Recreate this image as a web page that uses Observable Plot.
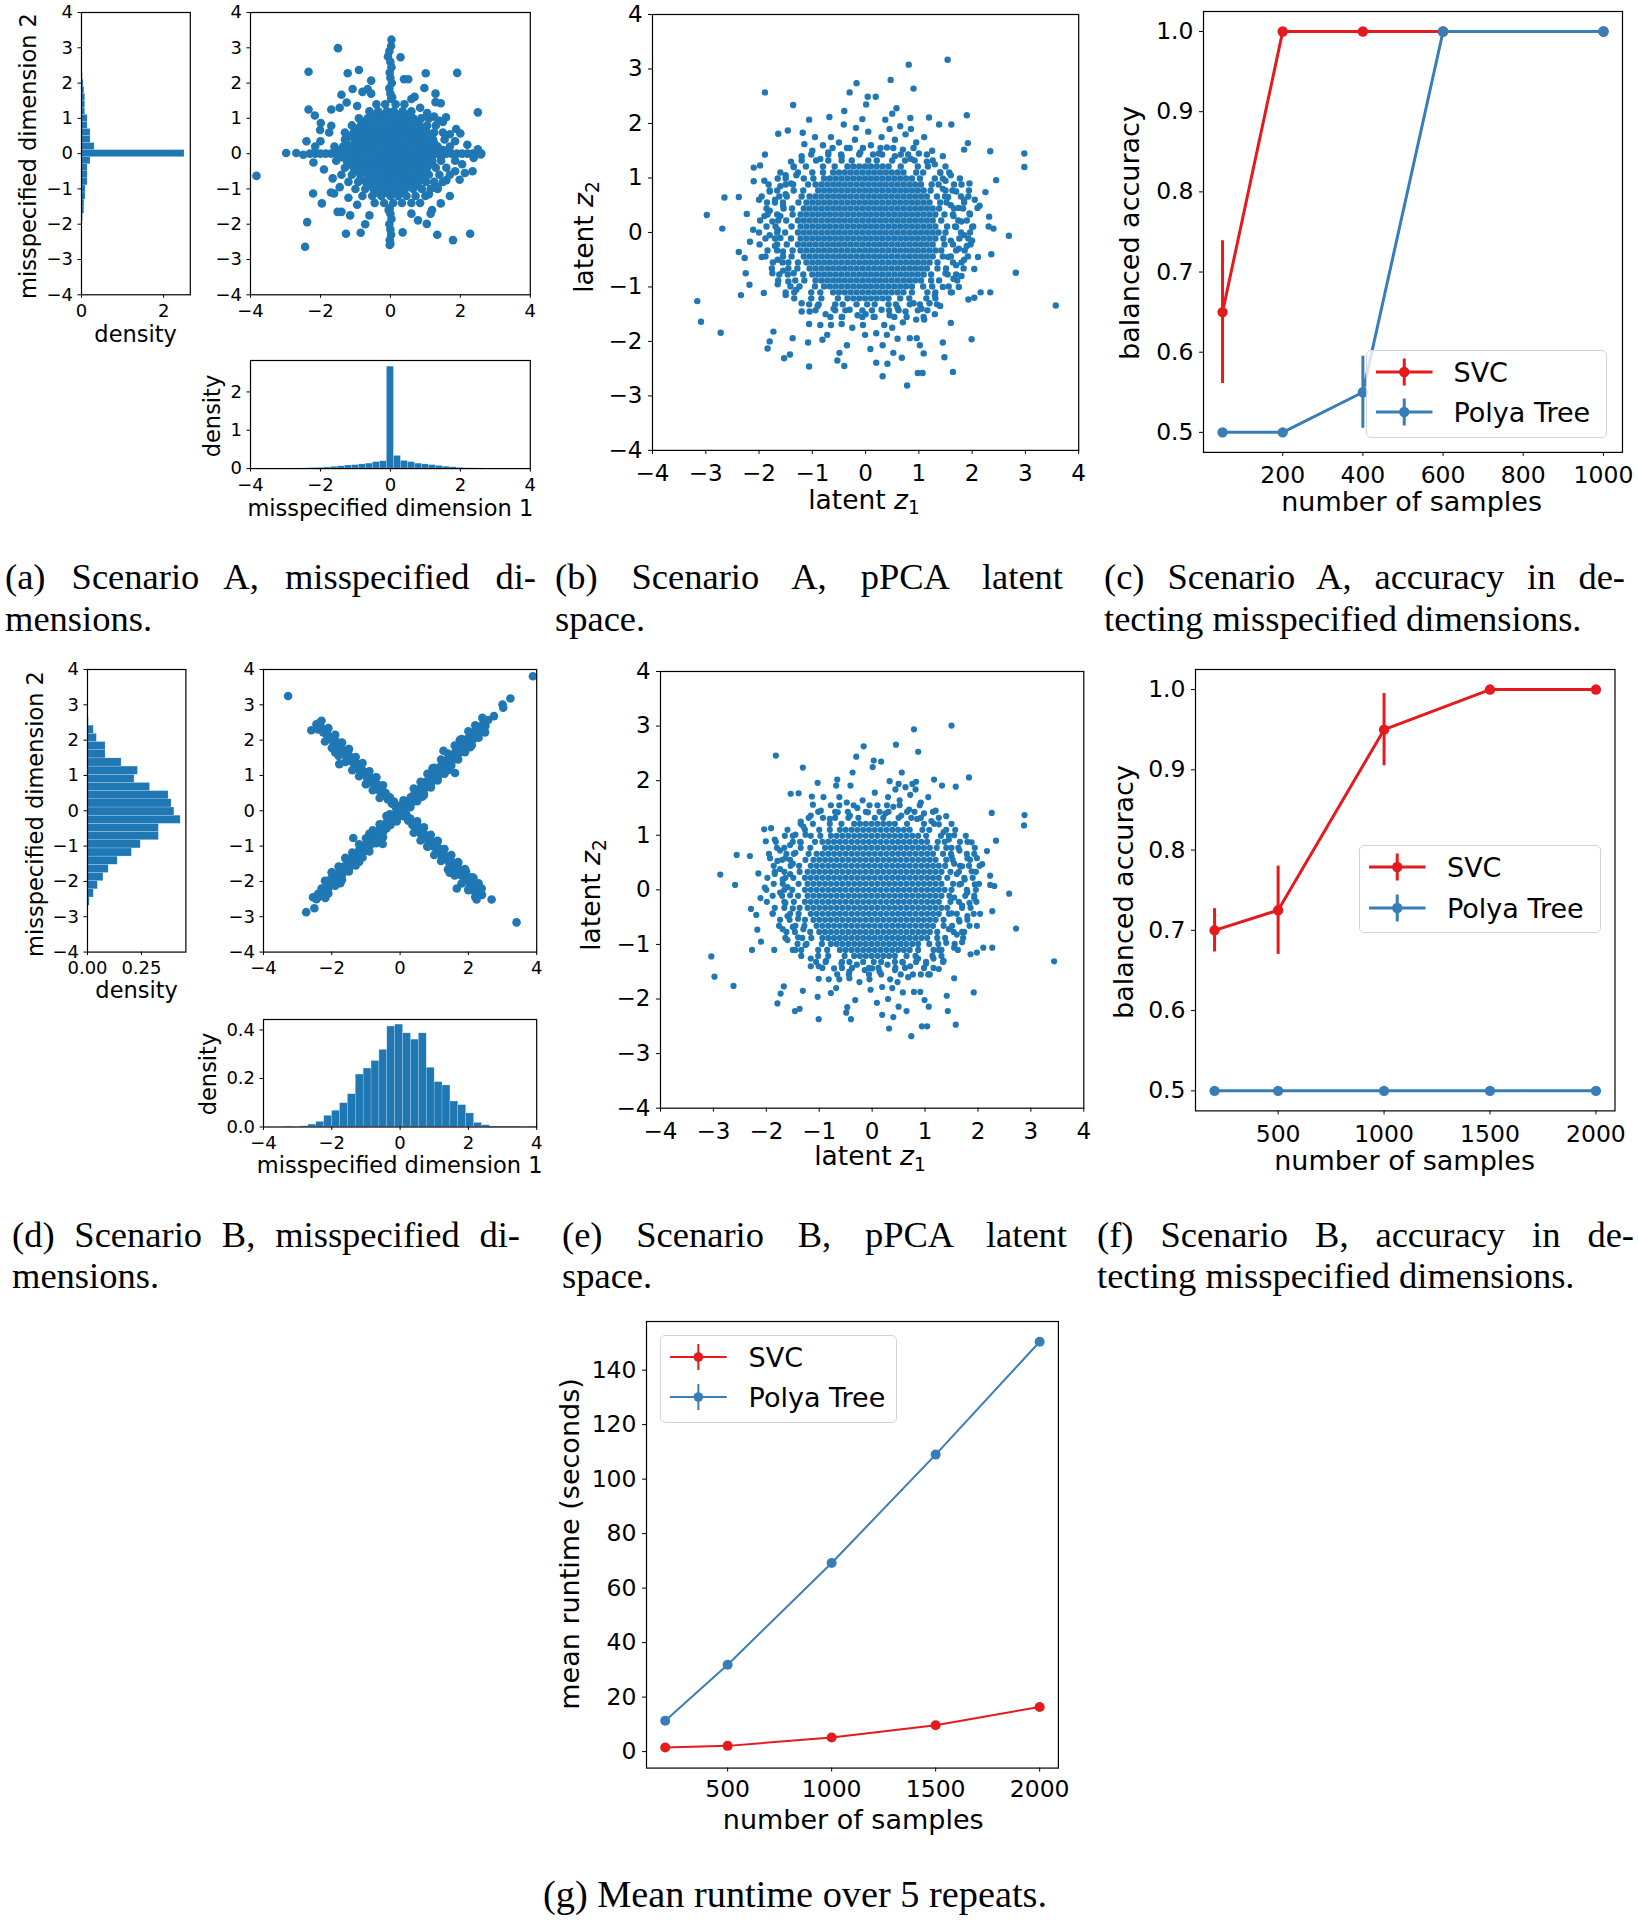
<!DOCTYPE html>
<html><head><meta charset="utf-8">
<script src="https://cdn.jsdelivr.net/npm/d3@7"></script>
<script src="https://cdn.jsdelivr.net/npm/@observablehq/plot@0.6"></script>
<style>
body{margin:0;background:#fff;}
#fig{position:relative;width:1638px;height:1920px;overflow:hidden;font-family:"DejaVu Sans";color:#000;background:#fff;}
.lab{position:absolute;white-space:nowrap;line-height:1;color:#000;font-family:"DejaVu Sans";}
.cap{position:absolute;font-family:"Liberation Serif";font-size:36.5px;line-height:1;white-space:nowrap;color:#000;}
.cap.j{text-align:justify;text-align-last:justify;white-space:normal;}
.leg{position:absolute;box-sizing:border-box;border:1.2px solid #d4d4d4;border-radius:5px;background:rgba(255,255,255,0.8);}
.legt{position:absolute;white-space:nowrap;line-height:1;font-family:"DejaVu Sans";color:#000;}
</style></head>
<body><div id="fig"></div>
<script>
// ---------------- DATA ----------------
const seriesNames = ["SVC", "Polya Tree"];
// (a) Scenario A marginal histograms (density)
const aLeftEdges = [-2.7,-2.5,-2.3,-2.1,-1.9,-1.7,-1.5,-1.3,-1.1,-0.9,-0.7,-0.5,-0.3,-0.1,0.1,0.3,0.5,0.7,0.9,1.1,1.3,1.5,1.7,1.9,2.1,2.3,2.5,2.7,2.9,3.1,3.3];
const aLeftDens = [0.003,0.003,0.005,0.01,0.035,0.07,0.07,0.1,0.1,0.15,0.15,0.15,0.22,2.51,0.32,0.22,0.22,0.15,0.15,0.09,0.09,0.09,0.07,0.05,0.03,0.01,0.005,0.003,0.003,0.003];
const aBottomEdges = [-3.9,-3.7,-3.5,-3.3,-3.1,-2.9,-2.7,-2.5,-2.3,-2.1,-1.9,-1.7,-1.5,-1.3,-1.1,-0.9,-0.7,-0.5,-0.3,-0.1,0.1,0.3,0.5,0.7,0.9,1.1,1.3,1.5,1.7,1.9,2.1,2.3,2.5,2.7];
const aBottomDens = [0.004,0,0,0,0,0.004,0.004,0.008,0.015,0.02,0.03,0.045,0.06,0.08,0.09,0.11,0.13,0.17,0.19,2.66,0.33,0.2,0.17,0.13,0.11,0.09,0.07,0.05,0.035,0.02,0.01,0.008,0.005];
// (a) scatter: dense core rows [y, x...], vertical band (x,y pairs), outer points (x,y pairs)
const aCoreRows = [
 [1.4,-0.4,-0.15,0.15,0.4],
 [1.2,-0.6,-0.35,-0.1,0.1,0.35,0.6],
 [1.1,-0.5,-0.25,0.0,0.25,0.5],
 [1.0,-0.9,-0.65,-0.42,-0.2,0.0,0.2,0.42,0.65,0.88,1.1],
 [0.9,-0.75,-0.52,-0.31,-0.1,0.1,0.31,0.52,0.75],
 [0.8,-1.1,-0.85,-0.63,-0.42,-0.21,0.0,0.21,0.42,0.63,0.84,1.05,1.3],
 [0.7,-0.95,-0.73,-0.52,-0.31,-0.1,0.1,0.31,0.52,0.73,0.95],
 [0.6,-1.3,-1.05,-0.84,-0.63,-0.42,-0.21,0.0,0.21,0.42,0.63,0.84,1.05,1.25,1.5],
 [0.5,-1.15,-0.92,-0.7,-0.5,-0.3,-0.1,0.1,0.3,0.5,0.7,0.9,1.12],
 [0.4,-1.3,-1.02,-0.81,-0.6,-0.4,-0.2,0.0,0.2,0.4,0.6,0.8,1.0,1.22,1.55],
 [0.3,-1.25,-1.0,-0.8,-0.6,-0.4,-0.2,0.0,0.2,0.4,0.6,0.8,1.0,1.25],
 [0.2,-1.6,-1.35,-1.12,-0.9,-0.7,-0.5,-0.3,-0.1,0.1,0.3,0.5,0.7,0.9,1.1,1.35,1.7],
 [0.1,-1.5,-1.2,-1.0,-0.8,-0.6,-0.4,-0.2,0.0,0.2,0.4,0.6,0.8,1.0,1.2,1.5],
 [0.0,-2.3,-2.15,-2.0,-1.85,-1.7,-1.55,-1.4,-1.25,-1.1,-0.95,-0.8,-0.65,-0.5,-0.35,-0.2,-0.05,0.1,0.25,0.4,0.55,0.7,0.85,1.0,1.15,1.3,1.45,1.6,1.75,1.9,2.05,2.2,2.35,2.48,2.6],
 [-0.1,-1.4,-1.15,-0.92,-0.7,-0.5,-0.3,-0.1,0.1,0.3,0.5,0.7,0.92,1.15,1.45],
 [-0.2,-1.55,-1.25,-1.02,-0.81,-0.6,-0.4,-0.2,0.0,0.2,0.4,0.6,0.8,1.0,1.2,1.45,1.85],
 [-0.3,-1.2,-0.95,-0.72,-0.52,-0.31,-0.1,0.1,0.31,0.52,0.72,0.95,1.2],
 [-0.4,-1.3,-1.05,-0.84,-0.63,-0.42,-0.21,0.0,0.21,0.42,0.63,0.84,1.05,1.3,1.6],
 [-0.5,-1.0,-0.75,-0.52,-0.31,-0.1,0.1,0.31,0.52,0.75,1.0],
 [-0.6,-1.4,-1.1,-0.85,-0.62,-0.41,-0.2,0.0,0.2,0.41,0.62,0.85,1.1,1.4,1.7],
 [-0.7,-0.85,-0.6,-0.37,-0.15,0.06,0.27,0.48,0.7,0.92],
 [-0.8,-1.2,-0.92,-0.7,-0.48,-0.26,-0.05,0.16,0.37,0.58,0.8,1.02,1.25,1.5],
 [-0.9,-0.6,-0.36,-0.14,0.08,0.3,0.52,0.75],
 [-1.0,-1.0,-0.72,-0.48,-0.25,-0.03,0.2,0.42,0.65,0.9,1.15,1.35],
 [-1.1,-0.4,-0.12,0.12,0.36],
 [-1.2,-0.8,-0.52,-0.26,0.0,0.22,0.46,0.72,1.0],
 [-1.4,-0.45,-0.18,0.08,0.33,0.6]
];
const aVBand = [0.02,3.05, -0.03,2.9, 0.0,2.6, 0.03,2.45, -0.02,2.3, 0.0,2.15, 0.04,2.0, -0.03,1.85, 0.0,1.7, 0.02,1.55, -0.02,-1.55, 0.0,-1.7, 0.03,-1.85, -0.03,-2.0, 0.0,-2.15, 0.02,-2.3, -0.02,-2.45, 0.0,-2.55, 0.05,1.6, -0.05,-1.6];
const aOuter = [0.03,3.23, -1.5,2.99, -0.07,2.75, 0.29,2.73, -2.34,2.32, -1.22,2.28, -0.9,2.37, 1.01,2.28, 1.91,2.29, -0.55,2.07, 0.39,2.11, 0.51,2.11, 0.97,1.86, -1.08,1.83, -0.65,1.83, -1.4,1.67, -0.8,1.75, 1.29,1.7, 0.69,1.61, 1.29,1.46, 1.44,1.43, -1.69,1.25, -2.34,1.25, 2.5,1.17, -2.16,1.08, -1.99,0.87, -2.01,0.67, -1.69,0.79, 1.59,1.03, 1.88,0.7, 2.0,0.57, 1.4,0.93, -2.98,0.02, -2.69,0.02, -2.49,-0.03, -3.83,-0.63, -2.21,-1.13, -1.61,-1.13, -1.96,-1.41, -1.51,-1.65, -1.4,-1.65, -2.38,-1.94, -2.44,-2.64, -1.27,-2.27, -0.85,-2.24, -0.72,-2.0, -0.02,-2.59, 0.35,-2.23, 0.79,-1.89, 1.04,-1.99, 1.34,-2.3, 1.79,-2.45, 2.28,-2.27, 1.44,-1.41, 1.19,-1.6, 2.13,-0.55, 1.98,-0.74, 2.5,0.12, 2.58,-0.02, 2.38,-0.12,
 -1.25,1.45, -1.45,1.3, -0.95,1.35, 0.85,1.3, 1.05,1.15, 1.25,1.05, 1.5,0.9, 1.7,0.55, 1.85,0.35, -1.75,0.6, -2.0,0.35, -2.15,0.2, -1.9,-0.45, -1.65,-0.7, -1.45,-0.95, -1.2,-1.25, -0.95,-1.45, 0.85,-1.4, 1.1,-1.15, 1.35,-0.95, 1.6,-0.75, 1.85,-0.5, 2.05,-0.3, 1.15,-1.7, -1.15,-1.75, -0.6,-1.75, 0.6,-1.7, -0.55,1.7, 0.6,1.55, -1.7,-1.1, 1.7,-1.2, 2.2,0.25, -2.2,-0.25, 2.35,-0.5, -2.4,0.35];

// (b)/(e) pPCA latent space: dense core + mid-density rows [y, x...] (same in both panels)
const latentCoreRows = [
 [1.55,-0.62,-0.35,-0.05,0.28,0.52,0.9],
 [1.43,-1.02,-0.7,-0.46,-0.12,0.14,0.31,0.66,0.8,1.15],
 [1.32,-1.2,-0.93,-0.7,-0.45,-0.26,0.05,0.21,0.5,0.74,0.92,1.26],
 [1.21,-1.35,-1.12,-0.8,-0.58,-0.34,-0.23,-0.12,-0.01,0.1,0.21,0.32,0.43,0.66,0.98,1.17,1.5],
 [1.10,-1.6,-1.27,-1.0,-0.8,-0.61,-0.5,-0.39,-0.28,-0.17,-0.06,0.05,0.16,0.27,0.38,0.49,0.6,0.71,0.95,1.08,1.4,1.57],
 [0.99,-1.65,-1.5,-1.16,-0.98,-0.78,-0.67,-0.56,-0.45,-0.34,-0.23,-0.12,-0.01,0.1,0.21,0.32,0.43,0.54,0.65,0.76,0.87,1.02,1.3,1.45,1.77],
 [0.88,-1.82,-1.5,-1.36,-1.08,-0.94,-0.83,-0.72,-0.61,-0.5,-0.39,-0.28,-0.17,-0.06,0.05,0.16,0.27,0.38,0.49,0.6,0.71,0.82,0.93,1.04,1.24,1.37,1.66,1.8],
 [0.77,-1.8,-1.66,-1.35,-1.17,-0.89,-0.78,-0.67,-0.56,-0.45,-0.34,-0.23,-0.12,-0.01,0.1,0.21,0.32,0.43,0.54,0.65,0.76,0.87,0.98,1.09,1.22,1.5,1.63,1.94],
 [0.66,-1.95,-1.62,-1.48,-1.2,-1.05,-0.94,-0.83,-0.72,-0.61,-0.5,-0.39,-0.28,-0.17,-0.06,0.05,0.16,0.27,0.38,0.49,0.6,0.71,0.82,0.93,1.04,1.15,1.34,1.49,1.79,1.93],
 [0.55,-1.7,-1.55,-1.26,-1.11,-1.0,-0.89,-0.78,-0.67,-0.56,-0.45,-0.34,-0.23,-0.12,-0.01,0.1,0.21,0.32,0.43,0.54,0.65,0.76,0.87,0.98,1.09,1.2,1.4,1.52,1.85],
 [0.44,-1.86,-1.54,-1.38,-1.16,-1.05,-0.94,-0.83,-0.72,-0.61,-0.5,-0.39,-0.28,-0.17,-0.06,0.05,0.16,0.27,0.38,0.49,0.6,0.71,0.82,0.93,1.04,1.15,1.26,1.38,1.66,1.83],
 [0.33,-1.84,-1.66,-1.37,-1.22,-1.11,-1.0,-0.89,-0.78,-0.67,-0.56,-0.45,-0.34,-0.23,-0.12,-0.01,0.1,0.21,0.32,0.43,0.54,0.65,0.76,0.87,0.98,1.09,1.2,1.31,1.48,1.64,1.96],
 [0.22,-1.98,-1.64,-1.49,-1.27,-1.16,-1.05,-0.94,-0.83,-0.72,-0.61,-0.5,-0.39,-0.28,-0.17,-0.06,0.05,0.16,0.27,0.38,0.49,0.6,0.71,0.82,0.93,1.04,1.15,1.26,1.42,1.74,1.9],
 [0.11,-1.86,-1.69,-1.39,-1.22,-1.11,-1.0,-0.89,-0.78,-0.67,-0.56,-0.45,-0.34,-0.23,-0.12,-0.01,0.1,0.21,0.32,0.43,0.54,0.65,0.76,0.87,0.98,1.09,1.2,1.31,1.53,1.68,2.02],
 [0.0,-2.0,-1.66,-1.51,-1.27,-1.16,-1.05,-0.94,-0.83,-0.72,-0.61,-0.5,-0.39,-0.28,-0.17,-0.06,0.05,0.16,0.27,0.38,0.49,0.6,0.71,0.82,0.93,1.04,1.15,1.26,1.37,1.5,1.79,1.96],
 [-0.11,-1.88,-1.7,-1.4,-1.22,-1.11,-1.0,-0.89,-0.78,-0.67,-0.56,-0.45,-0.34,-0.23,-0.12,-0.01,0.1,0.21,0.32,0.43,0.54,0.65,0.76,0.87,0.98,1.09,1.2,1.31,1.46,1.76,1.93],
 [-0.22,-1.99,-1.66,-1.48,-1.27,-1.16,-1.05,-0.94,-0.83,-0.72,-0.61,-0.5,-0.39,-0.28,-0.17,-0.06,0.05,0.16,0.27,0.38,0.49,0.6,0.71,0.82,0.93,1.04,1.15,1.26,1.48,1.64,1.97],
 [-0.33,-1.84,-1.66,-1.37,-1.22,-1.11,-1.0,-0.89,-0.78,-0.67,-0.56,-0.45,-0.34,-0.23,-0.12,-0.01,0.1,0.21,0.32,0.43,0.54,0.65,0.76,0.87,0.98,1.09,1.2,1.31,1.42,1.7,1.86],
 [-0.44,-1.88,-1.55,-1.39,-1.16,-1.05,-0.94,-0.83,-0.72,-0.61,-0.5,-0.39,-0.28,-0.17,-0.06,0.05,0.16,0.27,0.38,0.49,0.6,0.71,0.82,0.93,1.04,1.15,1.26,1.45,1.6,1.92],
 [-0.55,-1.74,-1.56,-1.27,-1.11,-1.0,-0.89,-0.78,-0.67,-0.56,-0.45,-0.34,-0.23,-0.12,-0.01,0.1,0.21,0.32,0.43,0.54,0.65,0.76,0.87,0.98,1.09,1.2,1.35,1.64,1.8],
 [-0.66,-1.76,-1.45,-1.28,-1.05,-0.94,-0.83,-0.72,-0.61,-0.5,-0.39,-0.28,-0.17,-0.06,0.05,0.16,0.27,0.38,0.49,0.6,0.71,0.82,0.93,1.04,1.15,1.35,1.51,1.84],
 [-0.77,-1.62,-1.46,-1.17,-1.0,-0.89,-0.78,-0.67,-0.56,-0.45,-0.34,-0.23,-0.12,-0.01,0.1,0.21,0.32,0.43,0.54,0.65,0.76,0.87,0.98,1.09,1.23,1.54,1.7],
 [-0.88,-1.64,-1.32,-1.15,-0.94,-0.83,-0.72,-0.61,-0.5,-0.39,-0.28,-0.17,-0.06,0.05,0.16,0.27,0.38,0.49,0.6,0.71,0.82,0.93,1.04,1.23,1.38,1.72],
 [-0.99,-1.41,-1.24,-0.95,-0.78,-0.67,-0.56,-0.45,-0.34,-0.23,-0.12,-0.01,0.1,0.21,0.32,0.43,0.54,0.65,0.76,0.87,1.08,1.25,1.56],
 [-1.10,-1.5,-1.34,-1.02,-0.85,-0.61,-0.5,-0.39,-0.28,-0.17,-0.06,0.05,0.16,0.27,0.38,0.49,0.6,0.71,0.87,1.16,1.31,1.62],
 [-1.21,-1.34,-1.02,-0.83,-0.52,-0.34,-0.23,-0.12,-0.01,0.1,0.21,0.32,0.43,0.65,0.82,1.14,1.31],
 [-1.32,-1.06,-0.88,-0.57,-0.43,-0.17,0.03,0.17,0.43,0.57,0.83,1.02,1.34],
 [-1.43,-0.94,-0.57,-0.38,-0.06,0.12,0.44,0.62,0.98,1.16],
 [-1.55,-0.66,-0.44,-0.06,0.17,0.54,0.77,1.09]
];
const bRing = [-0.85,1.35, -0.7,1.47, -0.45,1.4, -0.3,1.55, -0.1,1.47, 0.1,1.6, 0.25,1.45, 0.4,1.56, 0.55,1.4, 0.7,1.52, 0.85,1.35, 1.0,1.45, 1.15,1.3, 0.3,1.75, 0.55,1.7, 0.75,1.8, 0.95,1.65, -0.2,1.7, -0.5,1.65, -0.8,1.6, -1.0,1.5, -1.2,1.4, -1.4,1.3, 0.05,1.85, 0.45,1.9, 0.65,1.95, 0.85,1.9, -0.65,1.75, 1.25,1.5, 1.45,1.4, 1.1,1.75, -0.95,1.75, -1.15,1.62,
 1.4,1.1, 1.5,0.95, 1.6,1.05, 1.45,0.8, 1.55,0.65, 1.7,0.75, 1.6,0.5, 1.75,0.45, 1.85,0.6, 1.65,0.3, 1.8,0.2, 1.95,0.35, 1.7,0.1, 1.85,-0.05, 2.0,0.1, 1.6,-0.15, 1.75,-0.3, 1.9,-0.25, 1.55,-0.45, 1.7,-0.6, 1.85,-0.5, 1.5,-0.75, 1.65,-0.85, 1.8,-0.8, 1.45,-1.0, 1.6,-1.1, 1.3,-1.15, 1.75,-1.0, 2.05,0.6, 2.1,0.45, 2.0,-0.15, 1.95,0.9, 1.3,1.25,
 1.2,-1.3, 1.05,-1.4, 0.9,-1.3, 0.75,-1.45, 0.6,-1.38, 0.45,-1.52, 0.3,-1.42, 0.15,-1.55, 0.0,-1.5, -0.15,-1.52, -0.3,-1.42, -0.45,-1.55, -0.6,-1.4, -0.75,-1.5, -0.9,-1.35, -1.05,-1.45, 0.35,-1.7, 0.5,-1.75, 0.2,-1.85, -0.05,-1.7, -0.25,-1.75, -0.45,-1.68, -0.65,-1.7, 0.7,-1.65, 0.95,-1.6, 1.1,-1.6, 1.3,-1.5, 1.4,-1.35, -1.2,-1.3, -0.85,-1.7, 0.6,-1.95, 0.4,-1.88,
 -1.3,-1.05, -1.45,-0.9, -1.35,-0.75, -1.55,-0.7, -1.45,-0.55, -1.65,-0.5, -1.55,-0.35, -1.7,-0.25, -1.6,-0.1, -1.8,-0.05, -1.65,0.05, -1.75,0.2, -1.6,0.3, -1.8,0.4, -1.55,0.5, -1.7,0.6, -1.5,0.7, -1.6,0.85, -1.4,0.9, -1.5,1.05, -1.3,1.05, -1.35,1.2, -1.85,0.55, -1.9,0.3, -1.95,-0.45, -1.75,-0.75, -1.65,-0.95, -1.5,-1.15, -1.2,-1.45, -1.8,0.75, -2.0,0.6, -1.9,0.95];
const bOuter = [1.54,3.17, 0.81,3.08, -0.17,2.74, 0.47,2.8, 0.9,2.64, -1.89,2.57, -0.3,2.57, 0.04,2.49, 0.19,2.49, 0.01,2.35, -1.36,2.34, 0.58,2.28, -0.4,2.23, 0.5,2.18, 1.9,2.15, 1.19,2.11, -1.06,2.07, -0.06,2.08, -0.68,2.12, 0.37,2.07, 0.84,2.1, 1.38,1.98, 1.61,1.98, -0.41,1.98, -0.18,1.92, -1.64,1.81, -1.46,1.87, -1.18,1.83, 1.85,1.52, 1.92,1.64, 2.34,1.49, 2.98,1.45, 2.98,1.2, 2.45,0.96, 2.25,0.74, -1.89,1.43, -2.1,1.19, -1.98,1.23, -2.1,0.94, -2.65,0.64, -2.38,0.65, -2.98,0.32, -2.69,0.07, -2.23,0.34, -2.11,0.05, -2.17,-0.17, -2.38,-0.36, -2.27,-0.47, -2.25,-0.75, -2.18,-0.96, -2.34,-1.15, -1.91,-1.11, -3.16,-1.26, -3.09,-1.64, -2.72,-1.84, -1.84,-2.13, -1.8,-2.0, -1.73,-1.82, -1.53,-2.31, -1.42,-2.24, -1.37,-1.94, -1.06,-2.46, -1.08,-2.02, -1.06,-1.68, -0.81,-1.97, -0.72,-1.88, -0.53,-2.35, -0.49,-2.21, -0.4,-2.45, -0.35,-2.07, -0.01,-1.88, 0.09,-2.14, 0.2,-2.39, 0.32,-2.64, 0.41,-2.41, 0.32,-2.07, 0.52,-2.21, 0.68,-2.3, 0.78,-2.81, 0.83,-1.94, 0.96,-1.94, 0.98,-2.58, 1.07,-2.58, 1.02,-2.07, 1.09,-2.22, 1.45,-2.02, 1.48,-2.29, 1.64,-2.56, 1.6,-1.66, 1.99,-1.96, 2.04,-1.2, 1.93,-1.23, 2.16,-1.1, 2.34,-1.1, 2.82,-0.74, 2.69,-0.06, 2.36,-0.4, 2.11,-0.45, 2.04,-0.67, 2.4,0.07, 2.31,0.11, 2.32,0.29, 2.14,0.49, 3.57,-1.34];

// (c) Scenario A accuracy
const cN = [50, 200, 400, 600, 1000];
const cSvcAcc = [0.65, 1.0, 1.0, 1.0, 1.0];
const cSvcErr = [0.089, 0, 0, 0, 0];
const cPolyaAcc = [0.5, 0.5, 0.55, 1.0, 1.0];
const cPolyaErr = [0, 0, 0.045, 0, 0];

// (d) Scenario B marginal histograms
const dLeftEdges = [-3.15,-2.918,-2.687,-2.455,-2.223,-1.992,-1.76,-1.528,-1.296,-1.065,-0.833,-0.601,-0.37,-0.138,0.094,0.325,0.557,0.789,1.02,1.252,1.484,1.716,1.947,2.179,2.411,2.642,2.874,3.106,3.337,3.569,3.8];
const dLeftDens = [0.003,0.003,0.01,0.029,0.048,0.074,0.098,0.14,0.206,0.247,0.331,0.331,0.432,0.403,0.39,0.376,0.29,0.218,0.234,0.158,0.084,0.084,0.0435,0.029,0.006,0.003,0,0.003,0,0.003];
const dBottomEdges = [-3.377,-3.146,-2.915,-2.684,-2.453,-2.222,-1.991,-1.76,-1.529,-1.298,-1.067,-0.836,-0.605,-0.374,-0.143,0.088,0.319,0.55,0.781,1.012,1.243,1.474,1.705,1.936,2.167,2.398,2.629,2.86,3.091,3.322,3.553,3.784,4.015];
const dBottomDens = [0.002,0,0.003,0.01,0.021,0.046,0.067,0.098,0.135,0.216,0.241,0.272,0.318,0.414,0.422,0.386,0.36,0.386,0.244,0.185,0.171,0.105,0.09,0.056,0.017,0.007,0.002,0.002,0.002,0.002,0,0.002];
// (d) scatter: two crossing arms + stray points (x,y pairs)
const dPosArm = [-2.55,-2.45, -2.45,-2.5, -2.4,-2.35, -2.3,-2.2, -2.25,-2.35, -2.15,-2.1, -2.1,-2.2, -2.05,-1.95, -1.95,-2.05, -1.9,-1.8, -1.85,-1.95, -1.78,-1.75, -1.7,-1.82, -1.65,-1.58, -1.6,-1.7, -1.52,-1.45, -1.48,-1.6, -1.42,-1.35, -1.37,-1.5, -1.3,-1.22, -1.25,-1.38, -1.2,-1.12, -1.15,-1.25, -1.08,-1.0, -1.03,-1.14, -0.97,-0.9, -0.92,-1.02, -0.86,-0.8, -0.82,-0.93, -0.75,-0.7, -0.7,-0.82, -0.64,-0.57, -0.6,-0.7, -0.53,-0.46, -0.5,-0.6, -0.43,-0.36, -0.4,-0.5, -0.32,-0.25, -0.28,-0.4, -0.22,-0.15, -0.18,-0.28, -0.1,-0.05, -0.07,-0.18, 0.0,0.07, 0.04,-0.08, 0.1,0.17, 0.14,0.03, 0.2,0.27, 0.25,0.13, 0.31,0.38, 0.36,0.24, 0.42,0.49, 0.47,0.35, 0.53,0.6, 0.58,0.46, 0.64,0.71, 0.69,0.57, 0.75,0.82, 0.8,0.68, 0.86,0.93, 0.91,0.79, 0.97,1.04, 1.02,0.9, 1.08,1.15, 1.13,1.01, 1.19,1.26, 1.24,1.12, 1.3,1.37, 1.35,1.23, 1.41,1.48, 1.46,1.34, 1.52,1.58, 1.57,1.45, 1.63,1.69, 1.68,1.56, 1.74,1.8, 1.79,1.67, 1.85,1.92, 1.9,1.78, 1.96,2.03, 2.01,1.9, 2.08,2.15, 2.13,2.02, 2.2,2.27, 2.25,2.14, 2.32,2.38, 2.38,2.25, 2.45,2.5, 2.5,2.4, 2.43,2.6, 2.58,2.57,
 -1.6,-1.35, -1.2,-1.45, -0.9,-0.65, -0.6,-0.85, 0.65,0.4, 0.95,1.2, 1.4,1.15, 1.75,2.0, 2.05,1.8, -2.0,-1.75, -1.75,-2.05, -2.39,-2.44, -2.19,-2.47, 0.3,0.1, 0.1,0.3, -0.3,-0.1, -0.1,-0.3,
 -2.2,-1.98, -2.0,-1.74, -1.8,-1.58, -1.6,-1.33, -1.4,-1.18, -1.2,-0.95, -1.0,-0.78, -0.8,-0.55, -0.6,-0.38, -0.4,-0.15, 0.4,0.63, 0.6,0.82, 0.8,1.05, 1.0,1.22, 1.2,1.45, 1.4,1.62, 1.6,1.85, 1.8,2.03, 2.0,2.25, 2.2,2.42,
 -2.1,-2.34, -1.9,-2.12, -1.7,-1.95, -1.5,-1.72, -1.3,-1.55, -1.1,-1.32, -0.9,-1.15, -0.7,-0.92, -0.5,-0.75, 0.5,0.27, 0.7,0.45, 0.9,0.66, 1.1,0.86, 1.3,1.05, 1.5,1.28, 1.7,1.45, 1.9,1.66, 2.1,1.86, 2.3,2.07];
const dNegArm = [-2.45,2.45, -2.35,2.5, -2.4,2.3, -2.3,2.35, -2.25,2.22, -2.15,2.18, -2.1,2.05, -2.0,2.08, -1.95,1.92, -1.88,1.97, -1.82,1.78, -1.75,1.83, -1.7,1.66, -1.62,1.7, -1.57,1.54, -1.5,1.58, -1.45,1.41, -1.38,1.46, -1.33,1.29, -1.26,1.34, -1.2,1.17, -1.14,1.22, -1.08,1.04, -1.02,1.1, -0.96,0.92, -0.9,0.98, -0.84,0.8, -0.78,0.86, -0.72,0.68, -0.66,0.74, -0.6,0.56, -0.54,0.62, -0.48,0.44, -0.42,0.5, -0.36,0.32, -0.3,0.38, -0.24,0.2, -0.18,0.26, -0.12,0.08, -0.06,0.14, 0.0,-0.04, 0.06,0.02, 0.12,-0.16, 0.18,-0.1, 0.24,-0.28, 0.3,-0.22, 0.36,-0.4, 0.42,-0.34, 0.48,-0.52, 0.54,-0.46, 0.6,-0.64, 0.66,-0.58, 0.72,-0.76, 0.78,-0.7, 0.84,-0.88, 0.9,-0.82, 0.96,-1.0, 1.02,-0.94, 1.08,-1.12, 1.14,-1.06, 1.2,-1.24, 1.26,-1.18, 1.32,-1.36, 1.38,-1.3, 1.44,-1.48, 1.5,-1.42, 1.56,-1.6, 1.62,-1.54, 1.68,-1.72, 1.74,-1.66, 1.8,-1.84, 1.86,-1.78, 1.92,-1.96, 1.98,-1.9, 2.04,-2.08, 2.1,-2.02, 2.16,-2.2, 2.22,-2.14, 2.28,-2.3, 2.34,-2.26, 2.4,-2.38,
 -1.9,1.65, -1.5,1.75, -1.0,0.75, -0.7,0.95, 0.8,-1.0, 1.1,-0.85, 1.45,-1.75, 1.7,-1.45, 2.0,-2.25, 2.15,-1.9, -2.6,2.28, -2.39,2.44, -2.14,2.15, 1.93,-1.72, 2.39,-2.2, 2.19,-2.3,
 -2.2,1.96, -2.0,1.78, -1.8,1.55, -1.6,1.38, -1.4,1.15, -1.2,0.98, -1.0,0.76, -0.8,0.58, -0.6,0.36, 0.4,-0.62, 0.6,-0.84, 0.8,-1.02, 1.0,-1.25, 1.2,-1.42, 1.4,-1.66, 1.6,-1.83, 1.8,-2.06, 2.0,-2.22, 2.2,-2.44,
 -2.3,2.55, -2.1,2.34, -1.9,2.15, -1.7,1.93, -1.5,1.75, -1.3,1.52, -1.1,1.35, -0.9,1.12, -0.7,0.95, -0.5,0.72, 0.5,-0.3, 0.7,-0.47, 0.9,-0.68, 1.1,-0.86, 1.3,-1.08, 1.5,-1.25, 1.7,-1.48, 1.9,-1.65, 2.1,-1.88, 2.3,-2.05];
const dStray = [3.89,3.81, -3.28,3.25, 3.41,-3.16, 3.23,3.18, 3.0,3.01, 3.02,2.92, 2.75,2.68, 2.41,2.63, 2.49,2.22, 2.19,2.22, 2.68,-2.51, 2.24,-2.51, 1.66,-2.2, -2.75,-2.87, -2.51,-2.76, 1.27,1.7, 1.61,1.07, -1.78,1.32, -1.37,-0.77, -0.51,-0.94];

// (e) Scenario B latent ring + outer points
const eRing = [-0.8,1.3, -0.65,1.42, -0.42,1.36, -0.28,1.5, -0.08,1.42, 0.1,1.55, 0.25,1.4, 0.4,1.52, 0.55,1.36, 0.7,1.47, 0.85,1.3, 0.98,1.4, 1.12,1.26, 0.3,1.7, 0.52,1.64, 0.72,1.74, 0.92,1.6, -0.18,1.64, -0.48,1.6, -0.78,1.55, -0.97,1.45, -1.16,1.36, -1.35,1.25, 0.05,1.78, 0.44,1.84, 0.63,1.88, 0.82,1.84, -0.62,1.7, 1.2,1.45, 1.4,1.35, 1.06,1.7, -0.92,1.7, -1.12,1.56,
 1.35,1.06, 1.45,0.92, 1.55,1.0, 1.4,0.77, 1.5,0.62, 1.65,0.72, 1.55,0.48, 1.7,0.43, 1.8,0.58, 1.6,0.29, 1.75,0.19, 1.88,0.34, 1.65,0.1, 1.8,-0.05, 1.94,0.1, 1.55,-0.14, 1.7,-0.29, 1.84,-0.24, 1.5,-0.43, 1.65,-0.58, 1.8,-0.48, 1.45,-0.72, 1.6,-0.82, 1.74,-0.77, 1.4,-0.97, 1.55,-1.06, 1.26,-1.1, 1.7,-0.96, 1.98,0.58, 2.03,0.44, 1.93,-0.15, 1.88,0.87, 1.26,1.2,
 1.16,-1.26, 1.02,-1.35, 0.87,-1.26, 0.72,-1.4, 0.58,-1.33, 0.43,-1.47, 0.29,-1.37, 0.14,-1.5, 0.0,-1.44, -0.14,-1.47, -0.29,-1.37, -0.43,-1.5, -0.58,-1.35, -0.72,-1.44, -0.87,-1.3, -1.01,-1.4, 0.34,-1.64, 0.48,-1.69, 0.19,-1.78, -0.05,-1.64, -0.24,-1.69, -0.43,-1.62, -0.62,-1.64, 0.68,-1.6, 0.92,-1.55, 1.06,-1.55, 1.26,-1.45, 1.35,-1.3, -1.16,-1.26, -0.82,-1.64, 0.58,-1.88, 0.38,-1.8,
 -1.26,-1.01, -1.4,-0.87, -1.3,-0.72, -1.5,-0.68, -1.4,-0.53, -1.6,-0.48, -1.5,-0.34, -1.64,-0.24, -1.55,-0.1, -1.74,-0.05, -1.6,0.05, -1.69,0.19, -1.55,0.29, -1.74,0.38, -1.5,0.48, -1.64,0.58, -1.45,0.68, -1.55,0.82, -1.35,0.87, -1.45,1.01, -1.26,1.01, -1.3,1.16, -1.79,0.53, -1.84,0.29, -1.88,-0.43, -1.69,-0.72, -1.6,-0.92, -1.45,-1.1, -1.16,-1.4, -1.74,0.72, -1.93,0.58, -1.84,0.92];
const eOuter = [1.5,3.01, 0.79,2.94, -0.16,2.63, 0.45,2.66, 0.87,2.53, -1.82,2.46, -0.3,2.44, 0.03,2.37, 0.01,2.25, 0.17,2.35, -1.31,2.24, 0.56,2.15, -0.37,2.15, 1.83,2.06, 1.17,2.02, -1.03,1.96, 0.33,1.99, 0.5,1.94, 0.76,1.94, 0.83,1.98, 1.32,1.91, 1.58,1.89, -0.66,2.02, -0.68,1.91, -0.41,1.91, -1.54,1.76, -1.39,1.77, -1.14,1.71, 2.26,1.41, 2.88,1.37, 2.87,1.18, 2.34,0.9, 2.17,0.71, -2.04,1.11, -1.91,1.13, -2.01,0.89, -2.56,0.64, -2.31,0.62, -2.87,0.28, -2.59,0.09, -2.15,0.3, -2.03,0.04, -2.11,-0.15, -2.29,-0.35, -2.19,-0.46, -2.17,-0.73, -2.1,-0.95, -2.27,-1.1, -1.85,-1.1, -3.04,-1.22, -2.98,-1.59, -2.62,-1.76, -1.79,-2.08, -1.73,-1.9, -1.67,-1.77, -1.46,-2.22, -1.37,-2.18, -1.31,-1.85, -1.01,-2.37, -1.03,-1.96, -1.01,-1.63, -0.78,-1.89, -0.68,-1.8, -0.49,-2.25, -0.47,-2.15, -0.4,-2.37, -0.32,-2.02, -0.03,-1.83, 0.09,-2.07, 0.19,-2.29, 0.32,-2.54, 0.4,-2.33, 0.3,-2.0, 0.5,-2.14, 0.65,-2.22, 0.74,-2.68, 0.79,-1.87, 0.91,-1.87, 0.94,-2.5, 1.04,-2.5, 0.99,-2.02, 1.07,-2.14, 1.41,-1.94, 1.43,-2.22, 1.58,-2.47, 1.55,-1.62, 1.92,-1.88, 1.98,-1.15, 1.86,-1.18, 2.1,-1.06, 2.27,-1.06, 2.72,-0.71, 2.59,-0.07, 2.27,-0.39, 2.04,-0.44, 1.98,-0.66, 2.31,0.07, 2.23,0.09, 2.23,0.26, 2.08,0.47, 3.44,-1.31];

// (f) Scenario B accuracy
const fN = [200, 500, 1000, 1500, 2000];
const fSvcAcc = [0.70, 0.725, 0.95, 1.0, 1.0];
const fSvcErr = [0.027, 0.055, 0.045, 0, 0];
const fPolyaAcc = [0.5, 0.5, 0.5, 0.5, 0.5];
const fPolyaErr = [0, 0, 0, 0, 0];

// (g) runtime
const gN = [200, 500, 1000, 1500, 2000];
const gSvc = [1.5, 2.1, 5.2, 9.7, 16.4];
const gPolya = [11.3, 31.9, 69.2, 109.0, 150.4];

const captions = [
 ["(a) Scenario A, misspecified di-", "mensions."],
 ["(b) Scenario A, pPCA latent", "space."],
 ["(c) Scenario A, accuracy in de-", "tecting misspecified dimensions."],
 ["(d) Scenario B, misspecified di-", "mensions."],
 ["(e) Scenario B, pPCA latent", "space."],
 ["(f) Scenario B, accuracy in de-", "tecting misspecified dimensions."],
 ["(g) Mean runtime over 5 repeats."]
];

// ---------------- HELPERS ----------------
const BLUE = "#1f77b4", RED = "#e41a1c", PT = "#377eb8";
const seriesColors = [RED, PT];
const fig = document.getElementById("fig");
const pairs = a => { const o = []; for (let i = 0; i < a.length; i += 2) o.push({x: a[i], y: a[i + 1]}); return o; };
const rows = r => r.flatMap(([y, ...xs]) => xs.map(x => ({x, y})));
const bins = (e, d) => d.map((v, i) => ({lo: e[i], hi: e[i + 1], d: v}));
const series = (n, acc, err) => n.map((v, i) => ({n: v, v: acc[i], e: err ? err[i] : 0}));
const fmt = s => d3.format(s);
const range = (a, b, s) => d3.range(a, b + s / 2, s);

function panel(fr, o, marks) {
  const [x0, y0, x1, y1] = fr, ml = 90, mr = 30, mt = 20, mb = 60;
  const svg = Plot.plot({
    width: x1 - x0 + ml + mr, height: y1 - y0 + mt + mb,
    marginLeft: ml, marginRight: mr, marginTop: mt, marginBottom: mb,
    style: "background:transparent;overflow:visible;font-family:'DejaVu Sans';color:#000;max-width:none;",
    x: {domain: o.x}, y: {domain: o.y},
    marks: [
      ...marks,
      Plot.frame({stroke: "#000", strokeWidth: 1.2}),
      Plot.axisX({ticks: o.xt, tickFormat: o.xf, tickSize: o.ts ?? 4, tickPadding: o.px ?? 8, fontSize: o.fs, label: null, color: "#000"}),
      Plot.axisY({ticks: o.yt, tickFormat: o.yf, tickSize: o.ts ?? 4, tickPadding: o.py ?? 6, fontSize: o.fs, label: null, color: "#000"})
    ]
  });
  svg.style.position = "absolute";
  svg.style.left = (x0 - ml) + "px";
  svg.style.top = (y0 - mt) + "px";
  fig.append(svg);
}
function lab(html, cx, cy, fs, rot) {
  const d = document.createElement("div");
  d.className = "lab"; d.innerHTML = html; d.style.fontSize = fs + "px";
  if (rot) {
    d.style.left = (cx - 0.086 * fs) + "px"; d.style.top = cy + "px";
    d.style.transform = "translate(-50%,-50%) rotate(-90deg)";
  } else {
    d.style.left = cx + "px"; d.style.top = (cy - 0.086 * fs) + "px";
    d.style.transform = "translate(-50%,-50%)";
  }
  fig.append(d);
}
function legend(box, ys, lx0, lx1, tx, fs, lw, r, eh) {
  const b = document.createElement("div"); b.className = "leg";
  Object.assign(b.style, {left: box[0] + "px", top: box[1] + "px", width: (box[2] - box[0]) + "px", height: (box[3] - box[1]) + "px"});
  fig.append(b);
  const NS = "http://www.w3.org/2000/svg";
  seriesNames.forEach((name, i) => {
    const w = lx1 - lx0, y = ys[i], c = seriesColors[i];
    const s = document.createElementNS(NS, "svg");
    s.setAttribute("width", w); s.setAttribute("height", 40);
    Object.assign(s.style, {position: "absolute", left: lx0 + "px", top: (y - 20) + "px", overflow: "visible"});
    s.innerHTML = `<line x1="0" y1="20" x2="${w}" y2="20" stroke="${c}" stroke-width="${lw}"/>` +
      `<line x1="${w / 2}" y1="${20 - eh}" x2="${w / 2}" y2="${20 + eh}" stroke="${c}" stroke-width="${lw}"/>` +
      `<circle cx="${w / 2}" cy="20" r="${r}" fill="${c}"/>`;
    fig.append(s);
    const t = document.createElement("div"); t.className = "legt"; t.textContent = name;
    Object.assign(t.style, {left: tx + "px", top: (y - 0.48 * fs) + "px", fontSize: fs + "px"});
    fig.append(t);
  });
}
function cap(left, width, cy, text, justify, fs = 36.5) {
  const d = document.createElement("div");
  d.className = "cap" + (justify ? " j" : "");
  d.style.fontSize = fs + "px";
  d.style.left = left + "px"; d.style.top = (cy - 0.58 * fs) + "px";
  if (justify) d.style.width = width + "px";
  d.textContent = text; fig.append(d);
}
const histH = (tbl, color) => Plot.rect(tbl, {x1: 0, x2: "d", y1: "lo", y2: "hi", fill: color, stroke: "#ffffff", strokeWidth: 0.4, strokeOpacity: 0.5});
const histV = (tbl, color) => Plot.rect(tbl, {x1: "lo", x2: "hi", y1: 0, y2: "d", fill: color, stroke: "#ffffff", strokeWidth: 0.4, strokeOpacity: 0.5});
function lineMarks(tbls, lw, r) {
  const m = [];
  tbls.forEach((t, i) => {
    const c = seriesColors[i];
    m.push(Plot.ruleX(t.filter(d => d.e > 0), {x: "n", y1: d => d.v - d.e, y2: d => d.v + d.e, stroke: c, strokeWidth: lw}));
    m.push(Plot.line(t, {x: "n", y: "v", stroke: c, strokeWidth: lw}));
    m.push(Plot.dot(t, {x: "n", y: "v", fill: c, r}));
  });
  return m;
}
const I = fmt("d"), F1 = fmt(".1f"), F2 = fmt(".2f");
const z1 = 'latent <span style="font-style:italic">z</span><span style="font-size:70%;position:relative;top:0.3em">1</span>';
const z2 = 'latent <span style="font-style:italic">z</span><span style="font-size:70%;position:relative;top:0.3em">2</span>';

// ---------------- (a) ----------------
const FA = 18, LA = 22.5;
panel([80.6, 11.8, 189.4, 294.1], {x: [0, 2.65], y: [-4, 4], xt: [0, 2], xf: I, yt: range(-4, 4, 1), yf: I, fs: FA, ts: 3.5, px: 6, py: 5},
  [histH(bins(aLeftEdges, aLeftDens), BLUE)]);
panel([249.6, 11.8, 529.4, 294.1], {x: [-4, 4], y: [-4, 4], xt: range(-4, 4, 2), xf: I, yt: range(-4, 4, 1), yf: I, fs: FA, ts: 3.5, px: 6, py: 5},
  [Plot.dot([...rows(aCoreRows), ...pairs(aVBand), ...pairs(aOuter)], {x: "x", y: "y", r: 4.3, fill: BLUE})]);
panel([249.6, 360, 529.4, 468.1], {x: [-4, 4], y: [0, 2.82], xt: range(-4, 4, 2), xf: I, yt: [0, 1, 2], yf: I, fs: FA, ts: 3.5, px: 6, py: 5},
  [histV(bins(aBottomEdges, aBottomDens), BLUE)]);
lab("misspecified dimension 2", 29.5, 155.5, LA, true);
lab("density", 135.6, 336.3, LA, false);
lab("density", 213.8, 415.8, LA, true);
lab("misspecified dimension 1", 390.3, 510.4, LA, false);

// ---------------- (b) ----------------
const FB = 23, LB = 26.5;
panel([652.3, 14.2, 1078.5, 450.1], {x: [-4, 4], y: [-4, 4], xt: range(-4, 4, 1), xf: I, yt: range(-4, 4, 1), yf: I, fs: FB, px: 10, py: 6},
  [Plot.dot([...rows(latentCoreRows), ...pairs(bRing), ...pairs(bOuter)], {x: "x", y: "y", r: 3.2, fill: BLUE})]);
lab(z2, 586.7, 236.6, LB, true);
lab(z1, 864, 502, LB, false);

// ---------------- (c) ----------------
const FC = 23.5, LC = 27;
panel([1202.5, 11.1, 1621.5, 452], {x: [2.5, 1047.5], y: [0.475, 1.025], xt: [200, 400, 600, 800, 1000], xf: I, yt: range(0.5, 1.0, 0.1), yf: F1, fs: FC, px: 10, py: 6},
  lineMarks([series(cN, cSvcAcc, cSvcErr), series(cN, cPolyaAcc, cPolyaErr)], 3, 5.2));
lab("balanced accuracy", 1131.2, 233.2, LC, true);
lab("number of samples", 1411.6, 503.6, LC, false);
legend([1366, 350.2, 1607.3, 437.7], [371.8, 411.7], 1376, 1432.5, 1453.5, 27, 3, 5.2, 13.5);

// ---------------- (d) ----------------
panel([86.9, 669.2, 185.3, 951.8], {x: [0, 0.4564], y: [-4, 4], xt: [0, 0.25], xf: F2, yt: range(-4, 4, 1), yf: I, fs: FA, ts: 3.5, px: 6, py: 5},
  [histH(bins(dLeftEdges, dLeftDens), BLUE)]);
panel([263.1, 669.2, 536.3, 951.8], {x: [-4, 4], y: [-4, 4], xt: range(-4, 4, 2), xf: I, yt: range(-4, 4, 1), yf: I, fs: FA, ts: 3.5, px: 6, py: 5},
  [Plot.dot([...pairs(dPosArm), ...pairs(dNegArm), ...pairs(dStray)], {x: "x", y: "y", r: 4.3, fill: BLUE})]);
panel([263.1, 1019, 536.3, 1126.5], {x: [-4, 4], y: [0, 0.443], xt: range(-4, 4, 2), xf: I, yt: [0, 0.2, 0.4], yf: F1, fs: FA, ts: 3.5, px: 6, py: 5},
  [histV(bins(dBottomEdges, dBottomDens), BLUE)]);
lab("misspecified dimension 2", 36.5, 813.9, LA, true);
lab("density", 136.6, 992, LA, false);
lab("density", 210.3, 1074, LA, true);
lab("misspecified dimension 1", 399.7, 1167, LA, false);

// ---------------- (e) ----------------
panel([659.7, 671.2, 1083, 1107.9], {x: [-4, 4], y: [-4, 4], xt: range(-4, 4, 1), xf: I, yt: range(-4, 4, 1), yf: I, fs: FB, px: 10, py: 6},
  [Plot.dot([...rows(latentCoreRows), ...pairs(eRing), ...pairs(eOuter)], {x: "x", y: "y", r: 3.1, fill: BLUE})]);
lab(z2, 593.7, 895, LB, true);
lab(z1, 870, 1158.6, LB, false);

// ---------------- (f) ----------------
panel([1195.4, 668.7, 1614.9, 1110.1], {x: [110, 2090], y: [0.475, 1.025], xt: [500, 1000, 1500, 2000], xf: I, yt: range(0.5, 1.0, 0.1), yf: F1, fs: FC, px: 10, py: 6},
  lineMarks([series(fN, fSvcAcc, fSvcErr), series(fN, fPolyaAcc, fPolyaErr)], 3, 5.2));
lab("balanced accuracy", 1125, 891.6, LC, true);
lab("number of samples", 1404.6, 1162, LC, false);
legend([1359.1, 845.3, 1601, 933.2], [867.3, 907.5], 1369, 1425.5, 1447, 27, 3, 5.2, 13.5);

// ---------------- (g) ----------------
panel([646.4, 1321.4, 1058.3, 1768], {x: [110, 2090], y: [-6.05, 157.85], xt: [500, 1000, 1500, 2000], xf: I, yt: range(0, 140, 20), yf: I, fs: FC, px: 8, py: 6},
  lineMarks([series(gN, gSvc), series(gN, gPolya)], 2, 5));
lab("mean runtime (seconds)", 571, 1544, LC, true);
lab("number of samples", 853.2, 1821.4, LC, false);
legend([660.4, 1335.1, 896.8, 1423], [1357.2, 1397.1], 670.4, 727.1, 748.6, 27, 2, 4.8, 13);

// ---------------- captions ----------------
const cols1 = [[5, 531], [555, 508], [1104, 521]];
const cols2 = [[12, 508], [562, 505], [1097, 537]];
[0, 1, 2].forEach(i => { cap(cols1[i][0], cols1[i][1], 580, captions[i][0], true); cap(cols1[i][0], 0, 622, captions[i][1], false); });
[0, 1, 2].forEach(i => { cap(cols2[i][0], cols2[i][1], 1238.5, captions[i + 3][0], true); cap(cols2[i][0], 0, 1279, captions[i + 3][1], false); });
cap(543, 0, 1897, captions[6][0], false, 38.3);
</script>
</body></html>
